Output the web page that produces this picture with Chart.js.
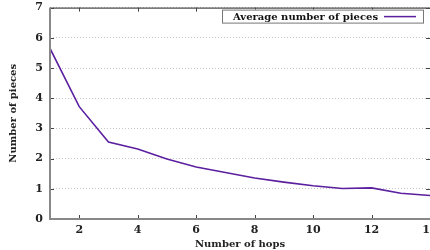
<!DOCTYPE html>
<html>
<head>
<meta charset="utf-8">
<script src="https://cdn.jsdelivr.net/npm/chart.js@4"></script>
<style>
  html, body { margin: 0; padding: 0; background: #fff; overflow: hidden; }
  #wrap { width: 460px; height: 256px; margin-top: -6px; }
</style>
</head>
<body>
<div id="wrap"><canvas id="chart" width="460" height="256"></canvas></div>
<script>
'use strict';

// ─── Data ─────────────────────────────────────────────────────────────────────

const hops   = [1, 2, 3, 4, 5, 6, 7, 8, 9, 10, 11, 12, 13, 14];
const pieces = [5.65, 3.72, 2.55, 2.32, 1.99, 1.72, 1.54, 1.36, 1.22, 1.1, 1.01, 1.03, 0.85, 0.78];
const xTicks = [2, 4, 6, 8, 10, 12, 14];
const yTicks = [0, 1, 2, 3, 4, 5, 6, 7];

const seriesLabel = 'Average number of pieces';
const lineColor   = '#5b1f9f';
const fontFamily  = '"DejaVu Serif", "Liberation Serif", serif';

// ─── Frame + legend plugin ────────────────────────────────────────────────────

const framePlugin = {
  id: 'frame',
  afterDraw(chart) {
    const { ctx, chartArea: a, scales: { x, y } } = chart;
    ctx.save();

    // top border
    ctx.strokeStyle = '#222';
    ctx.lineWidth = 1;
    ctx.beginPath();
    ctx.moveTo(a.left, a.top + 0.5);
    ctx.lineTo(a.right, a.top + 0.5);
    ctx.stroke();

    // inward ticks
    ctx.strokeStyle = '#444';
    xTicks.forEach(v => {
      const px = Math.round(x.getPixelForValue(v)) + 0.5;
      ctx.beginPath();
      ctx.moveTo(px, a.top); ctx.lineTo(px, a.top + 4);
      ctx.moveTo(px, a.bottom); ctx.lineTo(px, a.bottom - 4);
      ctx.stroke();
    });
    yTicks.forEach(v => {
      const py = Math.round(y.getPixelForValue(v)) + 0.5;
      ctx.beginPath();
      ctx.moveTo(a.left, py); ctx.lineTo(a.left + 4, py);
      ctx.moveTo(a.right, py); ctx.lineTo(a.right - 4, py);
      ctx.stroke();
    });

    // left + bottom axes
    ctx.strokeStyle = '#888';
    ctx.lineWidth = 2;
    ctx.beginPath();
    ctx.moveTo(a.left, a.top);
    ctx.lineTo(a.left, a.bottom);
    ctx.lineTo(a.right, a.bottom);
    ctx.stroke();

    // legend box
    const bx = 222, by = a.top + 2, bw = 201, bh = 13;
    ctx.fillStyle = '#fff';
    ctx.fillRect(bx, by, bw, bh);
    ctx.strokeStyle = '#777';
    ctx.lineWidth = 1;
    ctx.strokeRect(bx + 0.5, by + 0.5, bw, bh);
    ctx.fillStyle = '#111';
    ctx.font = 'bold 10px ' + fontFamily;
    ctx.textBaseline = 'middle';
    ctx.textAlign = 'left';
    ctx.fillText(seriesLabel, 233, by + bh / 2 + 1);
    ctx.strokeStyle = lineColor;
    ctx.lineWidth = 1.5;
    ctx.beginPath();
    ctx.moveTo(384, by + bh / 2 + 0.5);
    ctx.lineTo(416, by + bh / 2 + 0.5);
    ctx.stroke();

    ctx.restore();
  },
};

// ─── Chart ────────────────────────────────────────────────────────────────────

new Chart(document.getElementById('chart'), {
  type: 'line',
  data: {
    labels: hops,
    datasets: [{
      label: seriesLabel,
      data: hops.map((h, i) => ({ x: h, y: pieces[i] })),
      borderColor: lineColor,
      borderWidth: 1.6,
      pointRadius: 0,
      tension: 0,
      fill: false,
    }],
  },
  options: {
    responsive: false,
    animation: false,
    layout: { padding: { top: 0, right: 30, left: 0, bottom: 0 } },
    scales: {
      x: {
        type: 'linear',
        min: 1,
        max: 14,
        afterBuildTicks: s => { s.ticks = xTicks.map(v => ({ value: v })); },
        afterFit: s => { s.height = 31; },
        grid: { display: false, drawTicks: false },
        border: { display: false },
        ticks: {
          padding: 5,
          color: '#222',
          font: { family: fontFamily, size: 11, weight: 'bold' },
          maxRotation: 0,
        },
        title: {
          display: true,
          text: 'Number of hops',
          color: '#222',
          padding: { top: 3, bottom: 0 },
          font: { family: fontFamily, size: 10, weight: 'bold' },
        },
      },
      y: {
        min: 0,
        max: 7,
        afterBuildTicks: s => { s.ticks = yTicks.map(v => ({ value: v })); },
        afterFit: s => { s.width = 50; },
        grid: { color: '#c8c8c8', lineWidth: 1, drawTicks: false },
        border: { display: false, dash: [1, 2] },
        ticks: {
          padding: 7,
          color: '#222',
          font: { family: fontFamily, size: 11, weight: 'bold' },
        },
        title: {
          display: true,
          text: 'Number of pieces',
          color: '#222',
          padding: { top: 7, bottom: 0 },
          font: { family: fontFamily, size: 10, weight: 'bold' },
        },
      },
    },
    plugins: {
      legend: { display: false },
      tooltip: { enabled: false },
    },
  },
  plugins: [framePlugin],
});
</script>
</body>
</html>
